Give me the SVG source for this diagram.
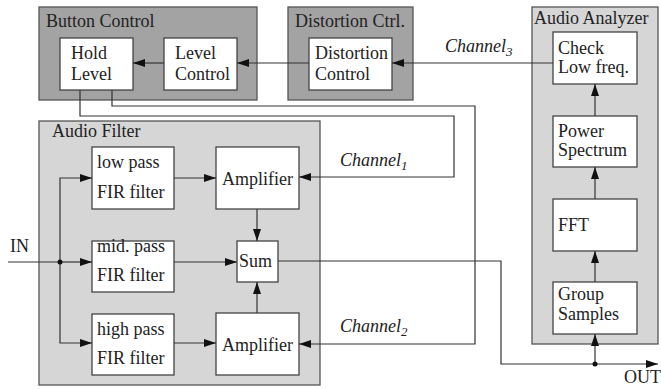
<svg xmlns="http://www.w3.org/2000/svg" width="661" height="389" viewBox="0 0 661 389" font-family="Liberation Serif, serif" font-size="18">
<style>
.dark{fill:#a3a3a3;stroke:#555;stroke-width:1.3}
.light{fill:#d6d6d6;stroke:#555;stroke-width:1.3}
.node{fill:#fff;stroke:#444;stroke-width:1.3}
.lbl{fill:#222;font-family:"Liberation Serif",serif;font-size:18px}
.it{font-style:italic}
.wire{fill:none;stroke:#333;stroke-width:1.2}
.arr{fill:none;stroke:#333;stroke-width:1.2;marker-end:url(#ah)}
.dot{fill:#111}
</style>
<defs>
<marker id="ah" viewBox="0 0 12 8" refX="12" refY="4" markerWidth="12" markerHeight="8" markerUnits="userSpaceOnUse" orient="auto">
<path d="M0,0 L12,4 L0,8 z" fill="#111"/>
</marker>
</defs>
<rect width="661" height="389" fill="#fff"/>

<g id="button-control">
<rect class="dark" x="39" y="7" width="218" height="93"/>
<text class="lbl" x="46" y="27">Button Control</text>
</g>
<g id="distortion-ctrl">
<rect class="dark" x="288" y="7" width="125" height="93"/>
<text class="lbl" x="295" y="27">Distortion Ctrl.</text>
</g>
<g id="audio-analyzer">
<rect class="light" x="532" y="7" width="126" height="337"/>
<text class="lbl" x="534" y="24">Audio Analyzer</text>
</g>
<g id="audio-filter">
<rect class="light" x="39" y="121" width="281" height="264"/>
<text class="lbl" x="52" y="137">Audio Filter</text>
</g>

<g id="hold-level">
<rect class="node" x="60" y="38" width="73" height="52"/>
<text class="lbl" x="71" y="59">Hold</text><text class="lbl" x="71" y="80">Level</text>
</g>
<g id="level-control">
<rect class="node" x="164" y="38" width="73" height="52"/>
<text class="lbl" x="175" y="59">Level</text><text class="lbl" x="175" y="80">Control</text>
</g>
<g id="distortion-control">
<rect class="node" x="309" y="38" width="83" height="52"/>
<text class="lbl" x="315" y="59">Distortion</text><text class="lbl" x="315" y="80">Control</text>
</g>
<g id="check-low-freq">
<rect class="node" x="553" y="32" width="84" height="52"/>
<text class="lbl" x="558" y="54">Check</text><text class="lbl" x="558" y="73">Low freq.</text>
</g>
<g id="power-spectrum">
<rect class="node" x="553" y="116" width="84" height="51"/>
<text class="lbl" x="558" y="137">Power</text><text class="lbl" x="558" y="156">Spectrum</text>
</g>
<g id="fft">
<rect class="node" x="553" y="199" width="84" height="52"/>
<text class="lbl" x="558" y="231">FFT</text>
</g>
<g id="group-samples">
<rect class="node" x="553" y="282" width="84" height="52"/>
<text class="lbl" x="558" y="300">Group</text><text class="lbl" x="558" y="320">Samples</text>
</g>
<g id="low-pass">
<rect class="node" x="92" y="147" width="82" height="62"/>
<text class="lbl" x="97" y="168">low pass</text><text class="lbl" x="97" y="198">FIR filter</text>
</g>
<g id="mid-pass">
<rect class="node" x="92" y="241" width="82" height="51"/>
<text class="lbl" x="97" y="252">mid. pass</text><text class="lbl" x="97" y="281">FIR filter</text>
</g>
<g id="high-pass">
<rect class="node" x="92" y="314" width="82" height="61"/>
<text class="lbl" x="97" y="335">high pass</text><text class="lbl" x="97" y="364">FIR filter</text>
</g>
<g id="amplifier-1">
<rect class="node" x="216" y="147" width="83" height="62"/>
<text class="lbl" x="222" y="185">Amplifier</text>
</g>
<g id="sum">
<rect class="node" x="237" y="241" width="41" height="41"/>
<text class="lbl" x="239" y="267">Sum</text>
</g>
<g id="amplifier-2">
<rect class="node" x="216" y="313" width="83" height="62"/>
<text class="lbl" x="222" y="351">Amplifier</text>
</g>

<g id="connectors">
<path class="arr" d="M164,63 H133"/>
<path class="arr" d="M309,63 H237"/>
<path class="arr" d="M553,63 H392"/>
<path class="arr" d="M595,116 V84"/>
<path class="arr" d="M595,199 V167"/>
<path class="arr" d="M595,282 V251"/>
<path class="arr" d="M80,90 V116 H454 V177 H299"/>
<path class="arr" d="M112,90 V106 H475 V344 H299"/>
<path class="wire" d="M8,262 H60"/>
<path class="arr" d="M60,262 H92"/>
<path class="arr" d="M60,262 V178 H92"/>
<path class="arr" d="M60,262 V343 H92"/>
<path class="arr" d="M174,178 H216"/>
<path class="arr" d="M174,262 H237"/>
<path class="arr" d="M174,343 H216"/>
<path class="arr" d="M257,209 V241"/>
<path class="arr" d="M257,313 V282"/>
<path class="arr" d="M278,261 H501 V364 H658"/>
<path class="arr" d="M595,364 V334"/>
<circle class="dot" cx="60" cy="262" r="2.5"/>
<circle class="dot" cx="595" cy="364" r="2.5"/>
<text class="lbl" x="10" y="252">IN</text>
<text class="lbl" x="624" y="383">OUT</text>
<text class="lbl it" x="445" y="52">Channel<tspan font-size="13" dy="4">3</tspan></text>
<text class="lbl it" x="340" y="166">Channel<tspan font-size="13" dy="4">1</tspan></text>
<text class="lbl it" x="340" y="332">Channel<tspan font-size="13" dy="4">2</tspan></text>
</g>
</svg>
